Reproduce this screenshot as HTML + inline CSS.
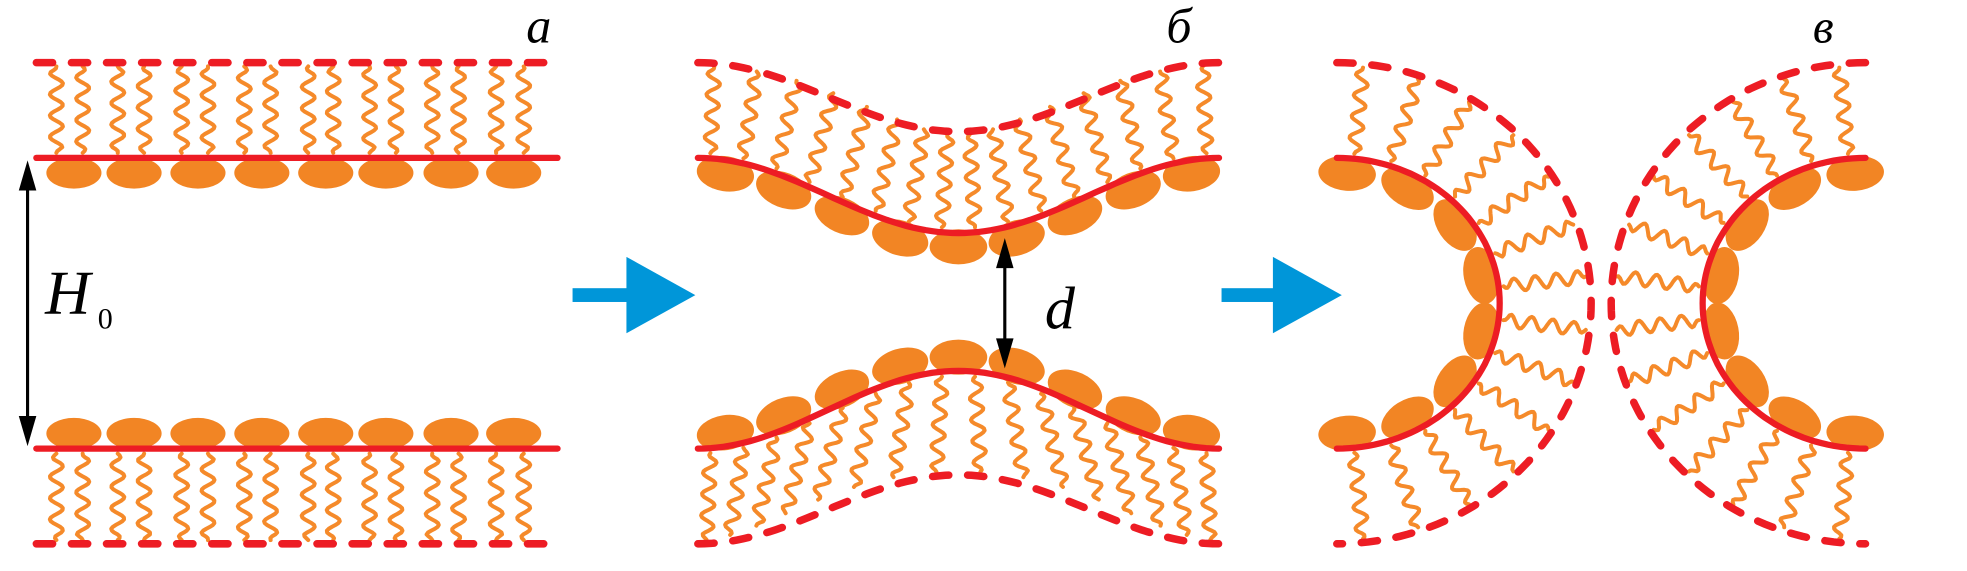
<!DOCTYPE html>
<html><head><meta charset="utf-8">
<style>
html,body{margin:0;padding:0;background:#fff;}
svg{display:block;}
text{font-family:"Liberation Serif",serif;fill:#000;}
</style></head>
<body>
<svg id="s" width="1967" height="571" viewBox="0 0 1570 455.7" preserveAspectRatio="none" xmlns="http://www.w3.org/2000/svg">
<g id="tails" fill="none" stroke="#f58a2a" stroke-width="3.2" stroke-linecap="round" stroke-linejoin="round"></g>
<g id="heads" fill="#f28524"></g>
<g id="lines" fill="none" stroke="#ed1c24" stroke-width="5" stroke-linecap="round"></g>
<g id="dash" fill="none" stroke="#ed1c24" stroke-width="6" stroke-linecap="round" stroke-dasharray="13 15"></g>
<g stroke="#000" stroke-width="2.5" fill="#000">
<line x1="22" y1="146" x2="22" y2="338"/>
<polygon points="22,128 15,152 29,152" stroke="none"/>
<polygon points="22,356 15,332 29,332" stroke="none"/>
<line x1="802" y1="208" x2="802" y2="276"/>
<polygon points="802,190 795,214 809,214" stroke="none"/>
<polygon points="802,294 795,270 809,270" stroke="none"/>
</g>
<g fill="#0096d9">
<rect x="457" y="230" width="45" height="11"/>
<polygon points="500,205 555,235.5 500,266"/>
<rect x="975" y="230" width="43" height="11"/>
<polygon points="1016,205 1071,235.5 1016,266"/>
</g>
<text x="420" y="34" font-size="40" style="font-style:italic">a</text>
<text x="931" y="34" font-size="40" style="font-style:italic">б</text>
<text x="1447" y="34" font-size="38" style="font-style:italic">в</text>
<text x="36" y="250" font-size="50" style="font-style:italic">H</text>
<text x="78" y="262" font-size="24" style="font-style:normal">0</text>
<text x="834" y="262" font-size="48" style="font-style:italic">d</text>
</svg>
<script>
var NS="http://www.w3.org/2000/svg";
function el(g,tag,attrs){var e=document.createElementNS(NS,tag);for(var k in attrs)e.setAttribute(k,attrs[k]);document.getElementById(g).appendChild(e);return e;}
function wavy(x1,y1,x2,y2,ph){
  var dx=x2-x1,dy=y2-y1,L=Math.hypot(dx,dy);var ux=dx/L,uy=dy/L,nx=-uy,ny=ux;
  var pts=[],N=Math.ceil(L/1.5);
  for(var i=0;i<=N;i++){var s=L*i/N;var env=Math.min(1,s/5,(L-s)/5);var a=5.2*Math.sin(2*Math.PI*s/17+ph)*env;
    pts.push((x1+ux*s+nx*a).toFixed(1)+","+(y1+uy*s+ny*a).toFixed(1));}
  el("tails","polyline",{points:pts.join(" ")});
}
function head(cx,cy,rx,ry,ang){el("heads","ellipse",{cx:cx,cy:cy,rx:rx,ry:ry,transform:"rotate("+ang+" "+cx+" "+cy+")"});}
function pathFn(g,f,a,b,n){var d="";for(var i=0;i<=n;i++){var t=a+(b-a)*i/n;var p=f(t);d+=(i?"L":"M")+p[0].toFixed(1)+" "+p[1].toFixed(1);}el(g,"path",{d:d});}
// Panel a
var tx=[45,66,94,115,145,166,195,216,246,266,295,316,345,366,396,418];
tx.forEach(function(x,i){wavy(x,122,x,53,i*1.3);wavy(x,362,x,431,i*1.7+1);});
[59,107,158,209,260,308,360,410].forEach(function(x){head(x,138,22,12.5,0);head(x,346,22,12.5,0);});
el("lines","line",{x1:29,y1:126,x2:445,y2:126});
el("lines","line",{x1:29,y1:358,x2:445,y2:358});
el("dash","line",{x1:29,y1:50,x2:445,y2:50});
el("dash","line",{x1:29,y1:434,x2:445,y2:434});
// Panel b
var bx0=557,bx1=973,W=bx1-bx0;
function bump(x){return (1-Math.cos(2*Math.PI*(x-bx0)/W))/2;}
function dbump(x){return Math.PI/W*Math.sin(2*Math.PI*(x-bx0)/W);}
var ts=[];
for(var i=0;i<16;i++){ts.push(bx0+10+i*(W-20)/15);}
ts.forEach(function(x,i){
  var sl=dbump(x)*60;var sy=126+60*bump(x);var dyl=50+55*bump(x);
  var ang=Math.atan(sl);var topx=x+(sy-dyl)*Math.sin(ang)*0.6;
  wavy(x,sy-4,topx,dyl+3,i*1.1);
  var sy2=358-62*bump(x),dyl2=434-55*bump(x);var bx=x+(dyl2-sy2)*Math.sin(-ang)*0.6;
  wavy(x,sy2+4,bx,dyl2-3,i*1.5+2);
});
for(var i=0;i<9;i++){var x=bx0+22+i*(W-44)/8;var sy=126+60*bump(x);var a=Math.atan(dbump(x)*60)*180/Math.PI;
  head(x,sy+11,23,14,a);var sy2=358-62*bump(x);var a2=Math.atan(-dbump(x)*62)*180/Math.PI;head(x,sy2-11,23,14,a2);}
pathFn("lines",function(x){return [x,126+60*bump(x)];},bx0,bx1,80);
pathFn("lines",function(x){return [x,358-62*bump(x)];},bx0,bx1,80);
pathFn("dash",function(x){return [x,50+55*bump(x)];},bx0,bx1,80);
pathFn("dash",function(x){return [x,434-55*bump(x)];},bx0,bx1,80);
// Panel v
function half(cx,sgn){
  var irx=130,iry=116,orx=203,ory=192;
  for(var i=0;i<14;i++){var t=-84+i*168/13;var r=t*Math.PI/180;
    var c=Math.cos(r),s=Math.sin(r);
    var x1=cx+sgn*(irx+4)*c,y1=242+(iry+4)*s,x2=cx+sgn*(orx-3)*c,y2=242+(ory-3)*s;
    wavy(x1,y1,x2,y2,i*1.3);}
  for(var i=0;i<8;i++){var t=-86+i*172/7;var r=t*Math.PI/180;var c=Math.cos(r),s=Math.sin(r);
    var hx=cx+sgn*(irx-12)*c,hy=242+(iry-12)*s;
    var ang=Math.atan2(s*iry,sgn*c*irx)*180/Math.PI+90;
    head(hx,hy,23,14,ang);}
  pathFn("lines",function(t){return [cx+sgn*irx*Math.cos(t),242+iry*Math.sin(t)];},-Math.PI/2,Math.PI/2,80);
  pathFn("dash",function(t){return [cx+sgn*orx*Math.cos(t),242+ory*Math.sin(t)];},-Math.PI/2,Math.PI/2,100);
}
half(1067,1);half(1489,-1);
</script>
</body></html>
